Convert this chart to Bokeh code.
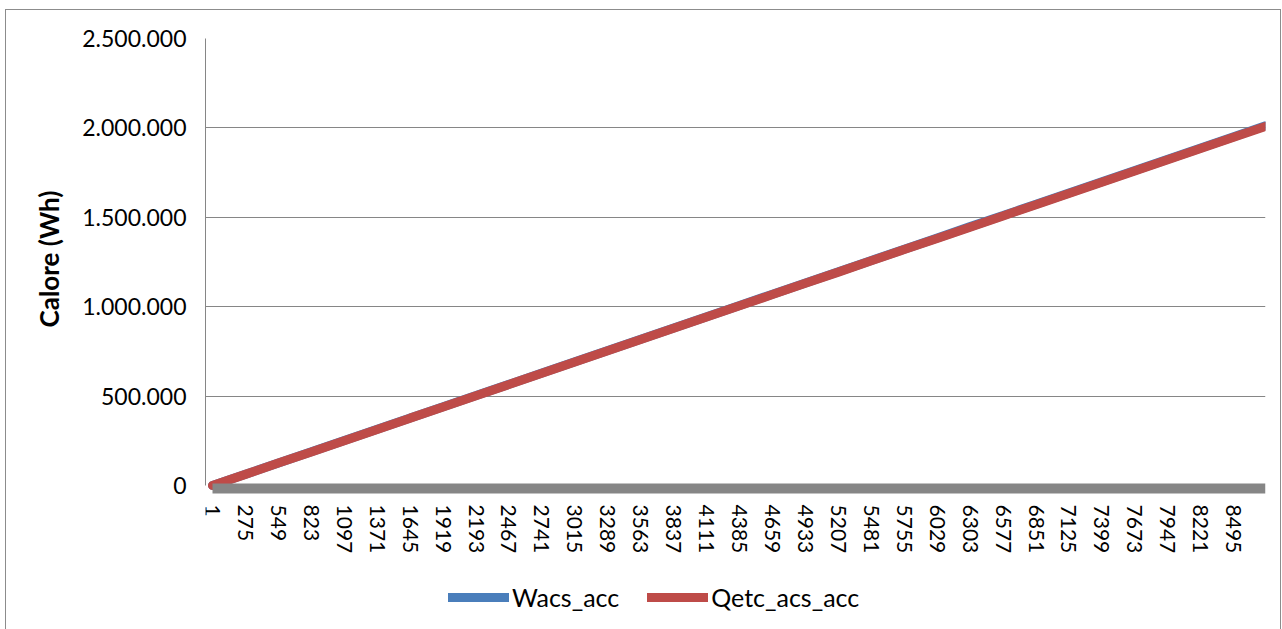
from bokeh.plotting import figure
from bokeh.models import Legend, LegendItem, FixedTicker, Range1d, Title
from bokeh.embed import file_html
from bokeh.resources import INLINE

# hours (category positions) at which the curves were read, and readings (Wh)
hours = [1, 275, 549, 823, 1097, 1371, 1645, 1919, 2193, 2467, 2741, 3015,
         3289, 3563, 3837, 4111, 4385, 4659, 4933, 5207, 5481, 5755, 6029,
         6303, 6577, 6851, 7125, 7399, 7673, 7947, 8221, 8495, 8760]
wacs_acc = [0, 63000, 126000, 189000, 252000, 315000, 378000, 441000, 503000,
            566000, 629000, 692000, 755000, 818000, 881000, 944000, 1007000,
            1070000, 1133000, 1196000, 1259000, 1322000, 1385000, 1448000,
            1510000, 1573000, 1636000, 1699000, 1762000, 1825000, 1888000,
            1951000, 2012000]
qetc_acs_acc = [0, 62500, 125500, 188000, 251000, 314000, 377000, 439500,
                502500, 565000, 628000, 691000, 754000, 816500, 879500,
                942500, 1005000, 1068000, 1131000, 1193500, 1256500, 1319500,
                1382000, 1445000, 1508000, 1570500, 1633500, 1696500, 1759000,
                1822000, 1885000, 1947500, 2008000]
x_tick_labels = [1, 275, 549, 823, 1097, 1371, 1645, 1919, 2193, 2467, 2741,
                 3015, 3289, 3563, 3837, 4111, 4385, 4659, 4933, 5207, 5481,
                 5755, 6029, 6303, 6577, 6851, 7125, 7399, 7673, 7947, 8221,
                 8495]
y_ticks = [0, 500000, 1000000, 1500000, 2000000, 2500000]
y_tick_labels = ["0", "500.000", "1.000.000", "1.500.000", "2.000.000", "2.500.000"]

BLUE = "#4A7EBB"
RED = "#BE4B48"
GRID = "#868686"
FONT = "Lato"

# frame reaches the window bottom so the legend can sit inside it
p = figure(frame_width=1060, frame_height=591, output_backend="svg",
           toolbar_location=None,
           x_range=Range1d(-57.2, 8760), y_range=Range1d(-805000, 2500000),
           min_border_left=199, min_border_right=15, min_border_top=28,
           min_border_bottom=0)
p.styles = {"border": "1px solid #8c8c8c", "margin-left": "5px",
            "margin-top": "9px", "margin-bottom": "-200px"}
p.outline_line_color = None
p.background_fill_color = "white"
p.border_fill_color = "white"

# grid
p.xgrid.grid_line_color = None
p.ygrid.grid_line_color = GRID
p.ygrid.grid_line_width = 1
p.ygrid.ticker = FixedTicker(ticks=y_ticks[1:])

# y axis
p.yaxis.ticker = FixedTicker(ticks=y_ticks)
p.yaxis.bounds = (0, 2500000)
p.yaxis.major_label_overrides = {t: l for t, l in zip(y_ticks, y_tick_labels)}
p.yaxis.minor_tick_line_color = None
p.yaxis.major_tick_in = 0
p.yaxis.major_tick_out = 0
p.yaxis.major_tick_line_color = GRID
p.yaxis.axis_line_color = GRID
p.yaxis.major_label_text_font = FONT
p.yaxis.major_label_text_font_size = "23px"
p.yaxis.major_label_text_color = "black"
p.yaxis.major_label_standoff = 19

# y axis title, placed along the 0 .. 2.500.000 span
ytitle = Title(text="Calore (Wh)", align="left", offset=302, standoff=30,
               text_font=FONT, text_font_style="bold", text_font_size="26px",
               text_color="black")
p.add_layout(ytitle, "left")

# x axis, drawn just under the zero level
p.xaxis.fixed_location = -16800
p.xaxis.bounds = (1, 8760)
p.xaxis.ticker = FixedTicker(ticks=x_tick_labels)
p.xaxis.major_label_overrides = {t: str(t) for t in x_tick_labels}
p.xaxis.major_label_orientation = "vertical"
p.xaxis.minor_tick_line_color = None
p.xaxis.major_tick_line_color = None
p.xaxis.major_tick_in = 0
p.xaxis.major_tick_out = 0
p.xaxis.axis_line_color = GRID
p.xaxis.axis_line_width = 10
p.xaxis.major_label_text_font = FONT
p.xaxis.major_label_text_font_size = "21px"
p.xaxis.major_label_text_color = "black"
p.xaxis.major_label_standoff = 16

# series
rb = p.line(hours, wacs_acc, line_color=BLUE, line_width=9, line_cap="round")
rr = p.line(hours, qetc_acs_acc, line_color=RED, line_width=9, line_cap="round")

legend = Legend(items=[LegendItem(label="Wacs_acc", renderers=[rb]),
                       LegendItem(label="Qetc_acs_acc", renderers=[rr])],
                orientation="horizontal", location=(243, 17))
legend.border_line_color = None
legend.background_fill_alpha = 0
legend.margin = 0
legend.padding = 0
legend.glyph_width = 61
legend.label_standoff = 3
legend.spacing = 28
legend.label_text_font = FONT
legend.label_text_font_size = "25px"
legend.label_text_color = "black"
p.add_layout(legend, "center")

open("out.html", "w").write(file_html(p, INLINE))
